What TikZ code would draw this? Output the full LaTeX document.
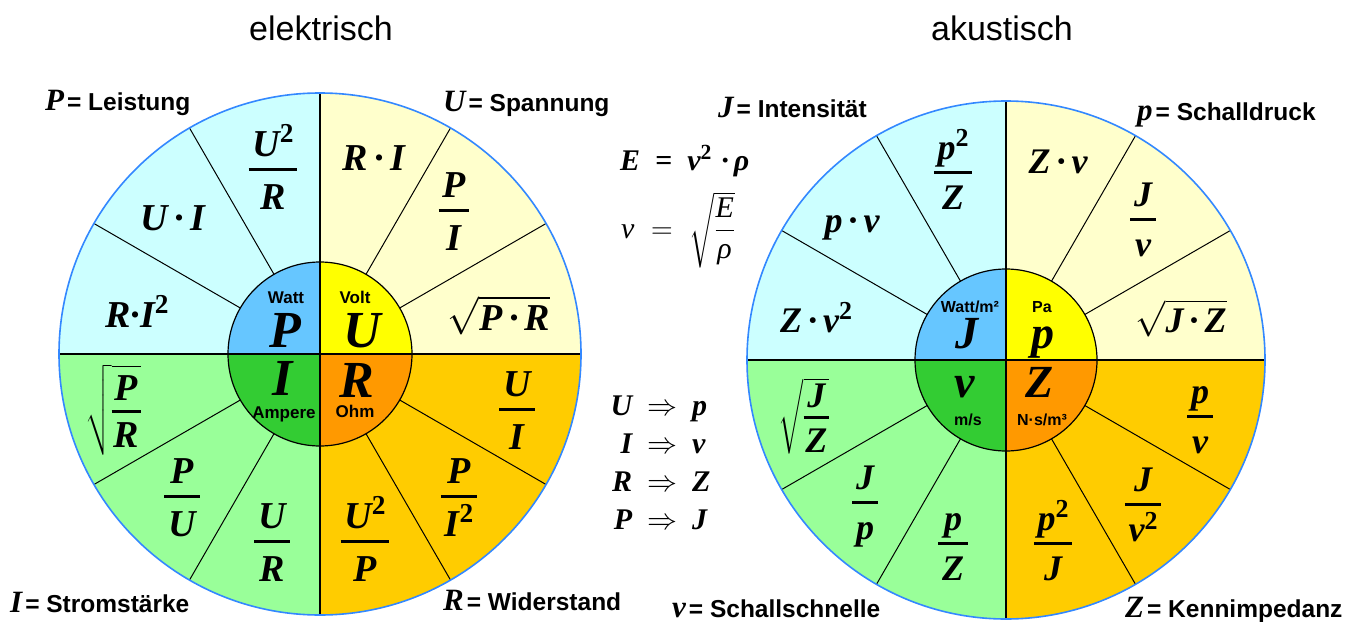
\RequirePackage{fix-cm}
\documentclass[tikz,border=0pt]{standalone}
\usepackage{amsmath}
\usepackage{graphicx}
\usepackage{fontspec}
\setmainfont{Liberation Serif}
\newfontfamily\lsans{Liberation Sans}
\definecolor{cC}{HTML}{CCFFFF}
\definecolor{cY}{HTML}{FFFFCC}
\definecolor{cG}{HTML}{99FF99}
\definecolor{cO}{HTML}{FFCC00}
\definecolor{iB}{HTML}{66C6FF}
\definecolor{iY}{HTML}{FFFF00}
\definecolor{iG}{HTML}{33CC33}
\definecolor{iO}{HTML}{FF9900}
\definecolor{rimblue}{HTML}{3388FF}
\newcommand\sq[1]{\raisebox{0.36em}{\scalebox{0.72}{\upshape #1}}}
\newcommand\fr[2]{\vbox{\offinterlineskip\halign{\hfil\kern0.1em##\kern0.1em\hfil\cr
\raisebox{0pt}[0.66em][0pt]{#1}\cr
\noalign{\kern0.32em\hrule height 0.075em\kern0.34em}
\raisebox{0pt}[0.66em][0pt]{#2}\cr}}}
\newcommand\frs[2]{\vbox{\offinterlineskip\halign{\hfil\kern0.05em##\kern0.05em\hfil\cr
\raisebox{0pt}[0.66em][0pt]{#1}\cr
\noalign{\kern0.25em\hrule height 0.07em\kern0.27em}
\raisebox{0pt}[0.66em][0pt]{#2}\cr}}}
\tikzset{
  spoke/.style={line width=1pt,black},
  axisline/.style={line width=1.8pt,black},
  ring/.style={line width=1.2pt,black},
  rim/.style={line width=1.6pt,rimblue},
  fL/.style={inner sep=0pt,font=\fontsize{38}{44}\selectfont\bfseries\itshape},
  fR/.style={inner sep=0pt,font=\fontsize{36}{42}\selectfont\bfseries\itshape},
  bigL/.style={inner sep=0pt,anchor=base,font=\fontsize{52}{60}\selectfont\bfseries\itshape},
  bigR/.style={inner sep=0pt,anchor=base,font=\fontsize{46}{54}\selectfont\bfseries\itshape},
  unitL/.style={inner sep=0pt,anchor=base,font=\lsans\fontsize{17}{20}\selectfont\bfseries},
  unitR/.style={inner sep=0pt,anchor=base,font=\lsans\fontsize{16}{19}\selectfont\bfseries},
  lbl/.style={inner sep=0pt,anchor=base west,font=\lsans\fontsize{24.5}{29}\selectfont\bfseries},
  ttl/.style={inner sep=0pt,anchor=base,font=\lsans\fontsize{34}{40}\selectfont},
  mid/.style={inner sep=0pt,anchor=base west,font=\fontsize{30}{36}\selectfont\bfseries\itshape},
}
\newcommand\LB[1]{{\fontsize{31}{36}\selectfont\rmfamily\bfseries\itshape #1}\kern3pt}
\newcommand\wheel[4]{%
\begin{scope}[shift={(#1,#2)},y=1pt]
 \fill[cC] (0,0) -- (90:#3) arc[start angle=90,end angle=180,radius=#3] -- cycle;
 \fill[cY] (0,0) -- (0:#3) arc[start angle=0,end angle=90,radius=#3] -- cycle;
 \fill[cG] (0,0) -- (180:#3) arc[start angle=180,end angle=270,radius=#3] -- cycle;
 \fill[cO] (0,0) -- (270:#3) arc[start angle=270,end angle=360,radius=#3] -- cycle;
 \fill[iB] (0,0) -- (90:#4) arc[start angle=90,end angle=180,radius=#4] -- cycle;
 \fill[iY] (0,0) -- (0:#4) arc[start angle=0,end angle=90,radius=#4] -- cycle;
 \fill[iG] (0,0) -- (180:#4) arc[start angle=180,end angle=270,radius=#4] -- cycle;
 \fill[iO] (0,0) -- (270:#4) arc[start angle=270,end angle=360,radius=#4] -- cycle;
 \foreach \a in {30,60,120,150,210,240,300,330} \draw[spoke] (\a:#4) -- (\a:#3);
 \draw[axisline] (-#3,0) -- (#3,0);
 \draw[axisline] (0,-#3) -- (0,#3);
 \draw[ring] (0,0) circle[radius=#4];
 \draw[rim] (0,0) circle[radius=#3];
\end{scope}}
\begin{document}
\begin{tikzpicture}[x=1pt,y=-1pt]
\fill[white] (0,0) rectangle (1370,621);
\useasboundingbox (0,0) rectangle (1370,621);
\wheel{320}{354}{261}{92}
\wheel{1006}{360}{259}{91}
% titles
\node[ttl] (t1) at (321,40) {elektrisch};
\node[ttl] (t2) at (1002,40) {akustisch};
% left wheel formulas
\node[fL] (l1) at (273,170) {\fr{U\sq2}{R}};
\node[fL,anchor=base] (l2) at (173,230) {U\,·\,I};
\node[fL,anchor=base] (l3) at (137,327) {R·I\sq2};
\node[fL,anchor=base] (l4) at (374,170) {R\,·\,I};
\node[fL] (l5) at (454,211) {\fr{P}{I}};
\node[fL,anchor=base] (l6) at (499,330) {$\sqrt{\hbox{P\,·\,R}}$};
\node[fL] (l7) at (113,410) {$\sqrt{\hbox{\frs{P}{R}}}$};
\node[fL] (l8) at (182,497) {\fr{P}{U}};
\node[fL] (l9) at (272,542) {\fr{U}{R}};
\node[fL] (l10) at (517,410) {\fr{U}{I}};
\node[fL] (l11) at (459,497) {\fr{P}{I\sq2}};
\node[fL] (l12) at (365,542) {\fr{U\sq2}{P}};
\node[bigL] (lP) at (285,347) {P};
\node[bigL] (lU) at (362,347) {U};
\node[bigL] (lI) at (283,395) {I};
\node[bigL] (lR) at (357,397) {R};
\node[unitL] (uW) at (286,303) {Watt};
\node[unitL] (uV) at (355,303) {Volt};
\node[unitL] (uA) at (284,418) {Ampere};
\node[unitL] (uO) at (355,417) {Ohm};
% right wheel formulas
\node[fR] (r1) at (953,173) {\fr{p\sq2}{Z}};
\node[fR,anchor=base] (r2) at (852,232) {p\,·\,v};
\node[fR,anchor=base] (r3) at (816,332) {Z\,·\,v\sq2};
\node[fR,anchor=base] (r4) at (1058,173) {Z\,·\,v};
\node[fR] (r5) at (1143,220) {\fr{J}{v}};
\node[fR,anchor=base] (r6) at (1181,332) {$\sqrt{\hbox{J\,·\,Z}}$};
\node[fR] (r7) at (804,416) {$\sqrt{\hbox{\frs{J}{Z}}}$};
\node[fR] (r8) at (865,503) {\fr{J}{p}};
\node[fR] (r9) at (953,544) {\fr{p}{Z}};
\node[fR] (r10) at (1200,417) {\fr{p}{v}};
\node[fR] (r11) at (1143,505) {\fr{J}{v\sq2}};
\node[fR] (r12) at (1053,544) {\fr{p\sq2}{J}};
\node[bigR] (rJ) at (967,348) {J};
\node[bigR] (rp) at (1043,348) {p};
\node[bigR] (rv) at (965,397) {v};
\node[bigR] (rZ) at (1040,397) {Z};
\node[unitR] (uWm) at (970,312) {Watt/m²};
\node[unitR] (uPa) at (1042,312) {Pa};
\node[unitR] (ums) at (968,425) {m/s};
\node[unitR] (uNs) at (1042,425) {N·s/m³};
% labels
\node[lbl] (a1) at (45,110) {\LB{P}= Leistung};
\node[lbl] (a2) at (443,111) {\LB{U}= Spannung};
\node[lbl] (a3) at (10,612) {\LB{I}= Stromstärke};
\node[lbl] (a4) at (443,610) {\LB{R}= Widerstand};
\node[lbl] (a5) at (718,117) {\LB{J}= Intensität};
\node[lbl] (a6) at (1137,120) {\LB{p}= Schalldruck};
\node[lbl] (a7) at (672,617) {\LB{v}= Schallschnelle};
\node[lbl] (a8) at (1125,617) {\LB{Z}= Kennimpedanz};
% middle
\node[mid] (m1) at (620,170) {E\enspace=\enspace v\sq2\,\,·\,ρ};
\node[mid,font=\fontsize{30}{36}\selectfont\itshape] (m2) at (621,238) {$\hbox{v}\;=\;\sqrt{\dfrac{\hbox{E}}{\hbox{ρ}}}$};
\node[mid] (m3) at (602,415) {\makebox[30pt][r]{U}\makebox[60pt]{$\Rightarrow$}\makebox[30pt][l]{p}};
\node[mid] (m4) at (602,453) {\makebox[30pt][r]{I}\makebox[60pt]{$\Rightarrow$}\makebox[30pt][l]{v}};
\node[mid] (m5) at (602,491) {\makebox[30pt][r]{R}\makebox[60pt]{$\Rightarrow$}\makebox[30pt][l]{Z}};
\node[mid] (m6) at (602,529) {\makebox[30pt][r]{P}\makebox[60pt]{$\Rightarrow$}\makebox[30pt][l]{J}};
\end{tikzpicture}
\end{document}
